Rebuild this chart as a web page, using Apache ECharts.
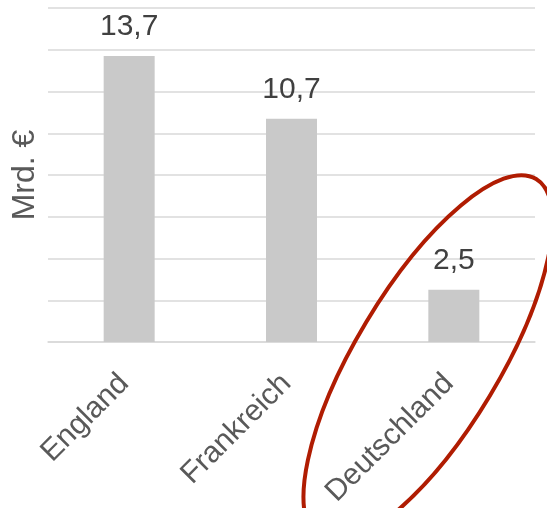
<!DOCTYPE html>
<html>
<head>
<meta charset="utf-8">
<script src="https://cdn.jsdelivr.net/npm/echarts@6/dist/echarts.min.js"></script>
<style>html,body{margin:0;padding:0;background:#fff;}#c{width:547px;height:508px;}</style>
</head>
<body>
<div id="c"></div>
<script>
const categories = ['England', 'Frankreich', 'Deutschland'];
const values = [13.7, 10.7, 2.5];
const yName = 'Mrd. €';

const chart = echarts.init(document.getElementById('c'));
const font = '"Liberation Sans", Arial, sans-serif';
chart.setOption({
  animation: false,
  grid: { left: 48, right: 12, top: 8, bottom: 166, containLabel: false, outerBoundsMode: 'none' },
  xAxis: {
    type: 'category',
    data: categories,
    axisLine: { lineStyle: { color: '#d9d9d9', width: 1.5 } },
    axisTick: { show: false },
    axisLabel: { rotate: 45, fontSize: 30, color: '#595959', fontFamily: font, margin: 32, padding: [0, 7, 0, 0], interval: 0 }
  },
  yAxis: {
    type: 'value',
    min: 0, max: 16, interval: 2,
    name: yName,
    nameLocation: 'middle',
    nameGap: 7,
    nameTextStyle: { fontSize: 32, color: '#595959', fontFamily: font },
    axisLabel: { show: false },
    axisLine: { show: false },
    axisTick: { show: false },
    splitLine: { lineStyle: { color: '#d9d9d9', width: 1.5 } }
  },
  series: [{
    type: 'bar',
    data: values,
    barWidth: 51,
    itemStyle: { color: '#c9c9c9' },
    label: {
      show: true, position: 'top', distance: 14,
      fontSize: 30, color: '#404040', fontFamily: font,
      formatter: p => String(p.value).replace('.', ',')
    }
  }],
  graphic: [{
    type: 'ellipse',
    x: 428, y: 359,
    rotation: 59 * Math.PI / 180,
    shape: { cx: 0, cy: 0, rx: 210, ry: 72 },
    style: { fill: 'none', stroke: '#b01c02', lineWidth: 4 },
    z: 100
  }]
});
</script>
</body>
</html>
